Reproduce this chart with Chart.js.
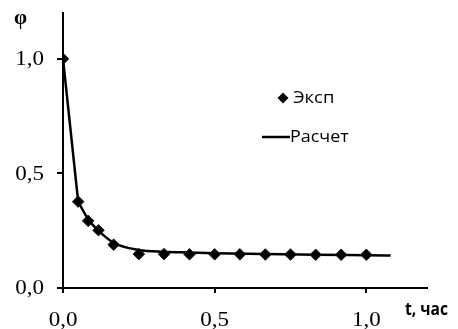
<!DOCTYPE html>
<html>
<head>
<meta charset="utf-8">
<script src="https://cdn.jsdelivr.net/npm/chart.js@4"></script>
<style>
html,body{margin:0;padding:0;background:#fff}
canvas{display:block}
</style>
</head>
<body>
<canvas id="chart" width="458" height="329"></canvas>
<script>
// experimental points (t, h ; phi)
const expT = [0, 0.05, 0.083, 0.117, 0.167, 0.25, 0.333, 0.417, 0.5, 0.583, 0.667, 0.75, 0.833, 0.917, 1.0];
const expPhi = [1.0, 0.377, 0.293, 0.252, 0.189, 0.148, 0.148, 0.147, 0.147, 0.147, 0.146, 0.146, 0.145, 0.145, 0.145];
// calculated curve (first segment is straight, rest smoothed)
const calcT = [0, 0.05, 0.083, 0.117, 0.167, 0.25, 0.333, 0.417, 0.5, 0.667, 0.833, 1.0, 1.08];
const calcPhi = [1.0, 0.377, 0.30, 0.25, 0.197, 0.166, 0.158, 0.155, 0.152, 0.148, 0.145, 0.143, 0.142];
const xTicks = [0, 0.5, 1.0];
const yTicks = [0, 0.5, 1.0];

const fmt = v => v.toFixed(1).replace('.', ',');
const pts = (xs, ys) => xs.map((t, i) => ({x: t, y: ys[i]}));

// text stretched horizontally like the original
function txt(c, s, x, y, font, sx, align){
  c.save();
  c.font = font;
  c.textBaseline = 'middle';
  const w = c.measureText(s).width * sx;
  const x0 = align === 'right' ? x - w : align === 'center' ? x - w / 2 : x;
  c.translate(x0, y);
  c.scale(sx, 1);
  c.textAlign = 'left';
  c.fillText(s, 0, 0);
  c.restore();
}

const extras = {
  id: 'extras',
  afterDraw(chart){
    const c = chart.ctx, xs = chart.scales.x, ys = chart.scales.y;
    c.save();
    c.fillStyle = '#000';
    const tickFont = '20px "Liberation Serif"';
    yTicks.forEach(v => txt(c, fmt(v), 44, ys.getPixelForValue(v) + 1, tickFont, 1.15, 'right'));
    xTicks.forEach(v => txt(c, fmt(v), xs.getPixelForValue(v), 321, tickFont, 1.15, 'center'));
    txt(c, 'φ', 14, 19, 'bold 21px "Liberation Serif"', 1.0, 'left');
    txt(c, 't, час', 405, 310, 'bold 17px "Open Sans"', 0.92, 'left');
    // legend
    c.beginPath();
    c.moveTo(283, 92.5); c.lineTo(288.5, 98); c.lineTo(283, 103.5); c.lineTo(277.5, 98); c.closePath();
    c.fill();
    txt(c, 'Эксп', 293, 98, '16px "Open Sans"', 1.15, 'left');
    c.strokeStyle = '#000';
    c.lineWidth = 2.5;
    c.beginPath(); c.moveTo(262, 137); c.lineTo(290, 137); c.stroke();
    txt(c, 'Расчет', 290, 137, '16px "Open Sans"', 1.12, 'left');
    c.restore();
  }
};

const lineStyle = {showLine: true, pointRadius: 0, borderColor: '#000', borderWidth: 2.5, order: 1};

new Chart(document.getElementById('chart'), {
  type: 'scatter',
  data: {
    datasets: [
      {
        label: 'Эксп',
        data: pts(expT, expPhi),
        showLine: false,
        pointStyle: 'rectRot',
        pointRadius: 5.8,
        backgroundColor: '#000',
        borderColor: '#10203a',
        borderWidth: 1,
        order: 0
      },
      Object.assign({label: 'Расчет', data: pts(calcT.slice(0, 2), calcPhi.slice(0, 2))}, lineStyle),
      Object.assign({label: 'Расчет', data: pts(calcT.slice(1), calcPhi.slice(1)), cubicInterpolationMode: 'monotone'}, lineStyle)
    ]
  },
  options: {
    responsive: false,
    animation: false,
    layout: {padding: {top: 13, right: 31, left: 0, bottom: 0}},
    plugins: {legend: {display: false}, tooltip: {enabled: false}},
    scales: {
      x: {
        type: 'linear', min: 0, max: 1.2,
        afterBuildTicks: s => { s.ticks = xTicks.map(v => ({value: v})); },
        afterFit: s => { s.height = 41; },
        border: {color: '#000', width: 2},
        grid: {drawOnChartArea: false, color: '#000', lineWidth: 2, tickLength: 5},
        ticks: {display: false}
      },
      y: {
        type: 'linear', min: 0, max: 1.2,
        afterBuildTicks: s => { s.ticks = yTicks.map(v => ({value: v})); },
        afterFit: s => { s.width = 63; },
        border: {color: '#000', width: 2},
        grid: {drawOnChartArea: false, color: '#000', lineWidth: 2, tickLength: 6},
        ticks: {display: false}
      }
    }
  },
  plugins: [extras]
});
</script>
</body>
</html>
